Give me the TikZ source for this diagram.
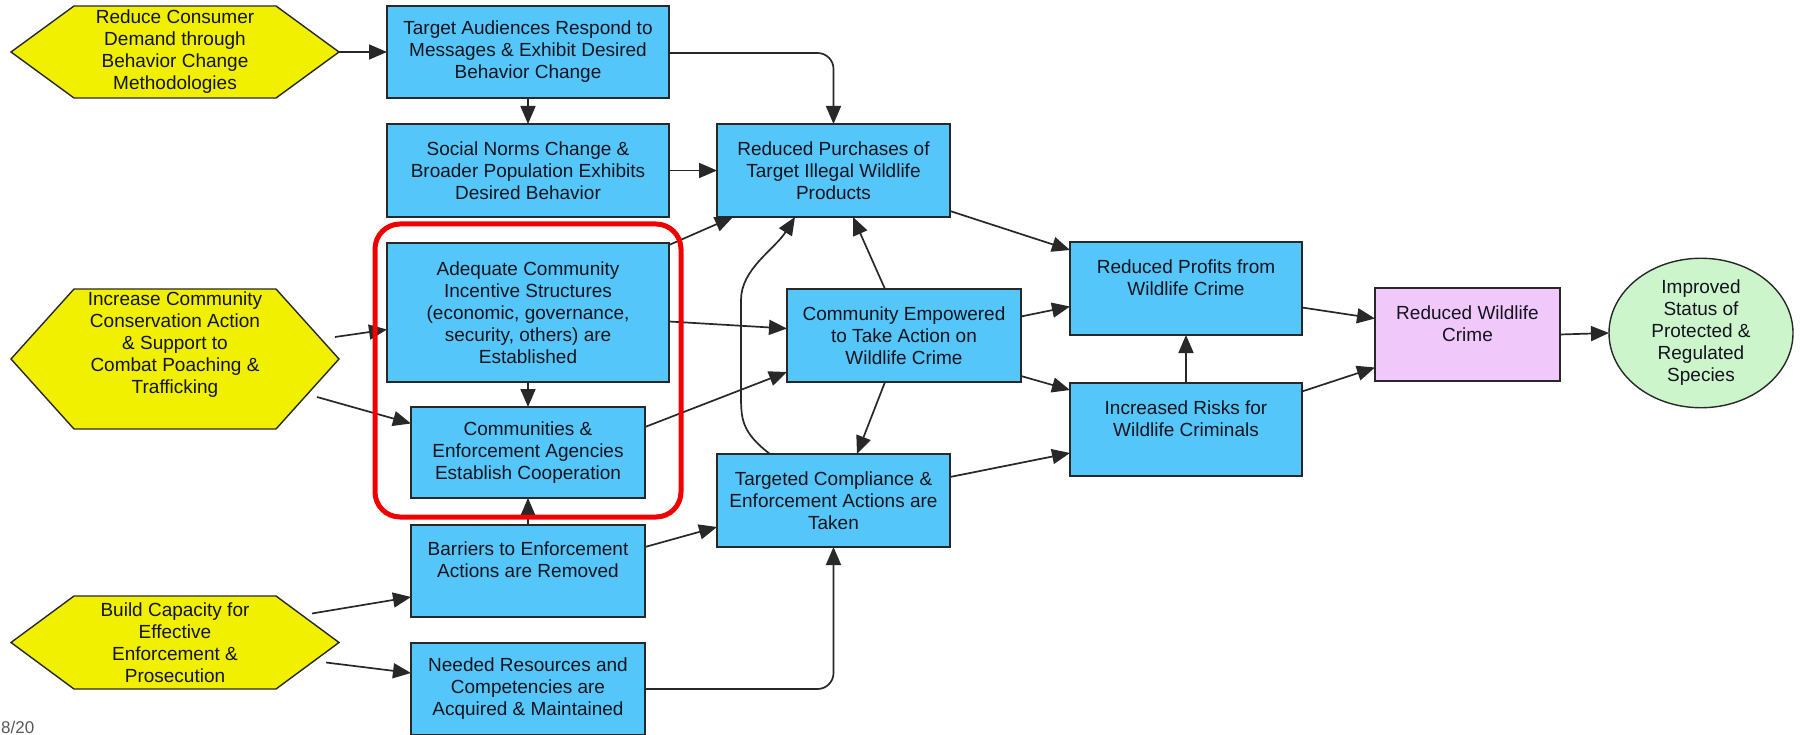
\documentclass[tikz,border=0pt]{standalone}
\usepackage{fontspec}
\setmainfont{Liberation Sans}
\usetikzlibrary{arrows.meta,calc,backgrounds,shapes.geometric}
\definecolor{boxblue}{RGB}{84,198,250}
\definecolor{hexyellow}{RGB}{240,240,0}
\definecolor{pinkbox}{RGB}{240,200,250}
\definecolor{greenell}{RGB}{204,245,204}
\definecolor{txt}{RGB}{20,20,30}
\definecolor{edgec}{RGB}{40,40,40}
\definecolor{hlred}{RGB}{240,0,0}
\tikzset{
  bx/.style={rectangle, draw=edgec, line width=1.4pt, fill=boxblue, inner sep=0pt, outer sep=0pt,
    align=center, text=txt, font=\fontsize{19}{22}\selectfont},
  hexn/.style={rectangle, inner sep=0pt, outer sep=0pt, minimum width=328,
    align=center, text=txt, font=\fontsize{19}{22}\selectfont},
  hexfill/.style={draw=edgec, line width=1.4pt, fill=hexyellow},
  arr/.style={draw=edgec, line width=1.7pt, -{Triangle[length=18pt,width=15pt]}},
}
\begin{document}
\begin{tikzpicture}[x=1pt,y=-1pt]
\useasboundingbox (0,0) rectangle (1802,735);

% hexagons (strategies)
\node[hexn, minimum height=92] (h1) at (175,52) {Reduce Consumer\\Demand through\\Behavior Change\\Methodologies};
\node[hexn, minimum height=140] (h2) at (175,359) {Increase Community\\Conservation Action\\\& Support to\\Combat Poaching \&\\Trafficking\\[10pt]\mbox{}};
\node[hexn, minimum height=93] (h3) at (175,642.5) {Build Capacity for\\Effective\\Enforcement \&\\Prosecution};
\begin{pgfonlayer}{background}
\fill[white] (0,0) rectangle (1802,735);
\foreach \h in {h1,h2,h3}{
  \draw[hexfill] (\h.west) -- ($(\h.north west)+(63,0)$) -- ($(\h.north east)+(-63,0)$) -- (\h.east)
    -- ($(\h.south east)+(-63,0)$) -- ($(\h.south west)+(63,0)$) -- cycle;
}
\end{pgfonlayer}

% boxes
\node[bx, minimum width=282, minimum height=92] (TA) at (528,52) {Target Audiences Respond to\\Messages \& Exhibit Desired\\Behavior Change};
\node[bx, minimum width=282, minimum height=93] (SN) at (528,170.5) {Social Norms Change \&\\Broader Population Exhibits\\Desired Behavior};
\node[bx, minimum width=282, minimum height=139] (AC) at (528,312.5) {Adequate Community\\Incentive Structures\\(economic, governance,\\security, others) are\\Established};
\node[bx, minimum width=234, minimum height=91] (CE) at (528,452.5) {Communities \&\\Enforcement Agencies\\Establish Cooperation};
\node[bx, minimum width=234, minimum height=92] (BR) at (528,571) {Barriers to Enforcement\\Actions are Removed\\\mbox{}};
\node[bx, minimum width=234, minimum height=92] (NR) at (528,689) {Needed Resources and\\Competencies are\\Acquired \& Maintained};
\node[bx, minimum width=233, minimum height=93] (RP) at (833.5,170.5) {Reduced Purchases of\\Target Illegal Wildlife\\Products};
\node[bx, minimum width=234, minimum height=93] (CEmp) at (904,335.5) {Community Empowered\\to Take Action on\\Wildlife Crime};
\node[bx, minimum width=233, minimum height=93] (TC) at (833.5,500.5) {Targeted Compliance \&\\Enforcement Actions are\\Taken};
\node[bx, minimum width=232, minimum height=93] (RPr) at (1186,288.5) {Reduced Profits from\\Wildlife Crime\\\mbox{}};
\node[bx, minimum width=232, minimum height=93] (IR) at (1186,429.5) {Increased Risks for\\Wildlife Criminals\\\mbox{}};
\node[bx, fill=pinkbox, minimum width=185, minimum height=93] (RWC) at (1467.5,334.5) {Reduced Wildlife\\Crime\\\mbox{}};
\node[ellipse, draw=edgec, line width=1.4pt, fill=greenell, inner sep=0pt, outer sep=0pt,
  minimum width=184, minimum height=138, align=center, text=txt, font=\fontsize{19}{22}\selectfont]
  (ell) at (1701,333) {Improved\\Status of\\Protected \&\\Regulated\\Species};

% connectors
\draw[arr] (h1.east) -- (TA.west);
\draw[arr] (TA.south) -- (SN.north);
\draw[arr, rounded corners=16pt] ($(TA.east)+(0,1)$) -| (RP.north);
\draw[arr] (SN.east) -- (RP.west);
\draw[arr] ($(AC.north east)+(0,2)$) -- ($(RP.south west)+(16,0)$);
\draw[arr] ($(TC.north west)+(53,0)$) .. controls ($(TC.north west)+(24,-22)$) and ($(TC.north west)+(24,-36)$) .. ($(TC.north west)+(24,-60)$)
  -- ($(RP.south west)+(24,83)$) .. controls ($(RP.south west)+(24,52)$) and ($(RP.south west)+(58,32)$) .. ($(RP.south west)+(78,0)$);
\draw[arr] ($(CEmp.north west)+(98,0)$) -- ($(RP.south west)+(136,0)$);
\draw[arr] ($(RP.south east)+(0,-6)$) -- ($(RPr.north west)+(0,8)$);
\draw[arr] ($(AC.east)+(0,9)$) -- ($(CEmp.west)+(0,-7)$);
\draw[arr] ($(CE.north east)+(0,20)$) -- ($(CEmp.south west)+(0,-10)$);
\draw[arr] ($(CEmp.east)+(0,-19)$) -- ($(RPr.west)+(0,18)$);
\draw[arr] ($(CEmp.south east)+(0,-6)$) -- ($(IR.north west)+(0,7)$);
\draw[arr] ($(CEmp.south west)+(98,0)$) -- ($(TC.north west)+(140,0)$);
\draw[arr] ($(TC.north east)+(0,23)$) -- ($(IR.south west)+(0,-23)$);
\draw[arr] (AC.south) -- (CE.north);
\draw[arr] ($(h2.east)+(-4,-22)$) -- ($(AC.west)+(0,17)$);
\draw[arr] ($(h2.east)+(-22,38)$) -- ($(CE.west)+(0,-29)$);
\draw[arr] (BR.north) -- (CE.south);
\draw[arr] ($(BR.north east)+(0,22)$) -- ($(TC.south west)+(0,-20)$);
\draw[arr] ($(h3.east)+(-27,-29)$) -- ($(BR.west)+(0,26)$);
\draw[arr] ($(h3.east)+(-13,20)$) -- ($(NR.west)+(0,-16)$);
\draw[arr, rounded corners=16pt] (NR.east) -| (TC.south);
\draw[arr] (IR.north) -- (RPr.south);
\draw[arr] ($(RPr.east)+(0,19)$) -- ($(RWC.west)+(0,-16)$);
\draw[arr] ($(IR.east)+(0,-38)$) -- ($(RWC.west)+(0,33)$);
\draw[arr] (RWC.east) -- (ell.west);

% highlight
\node[draw=hlred, line width=5pt, rounded corners=25pt, minimum width=306, minimum height=293, inner sep=0pt] (hl) at (528,370.5) {};

% page number
\node[anchor=south west, inner sep=1pt, text=black!65, font=\fontsize{17}{17}\selectfont] (pg) at (0,735) {8/20};
\end{tikzpicture}
\end{document}
